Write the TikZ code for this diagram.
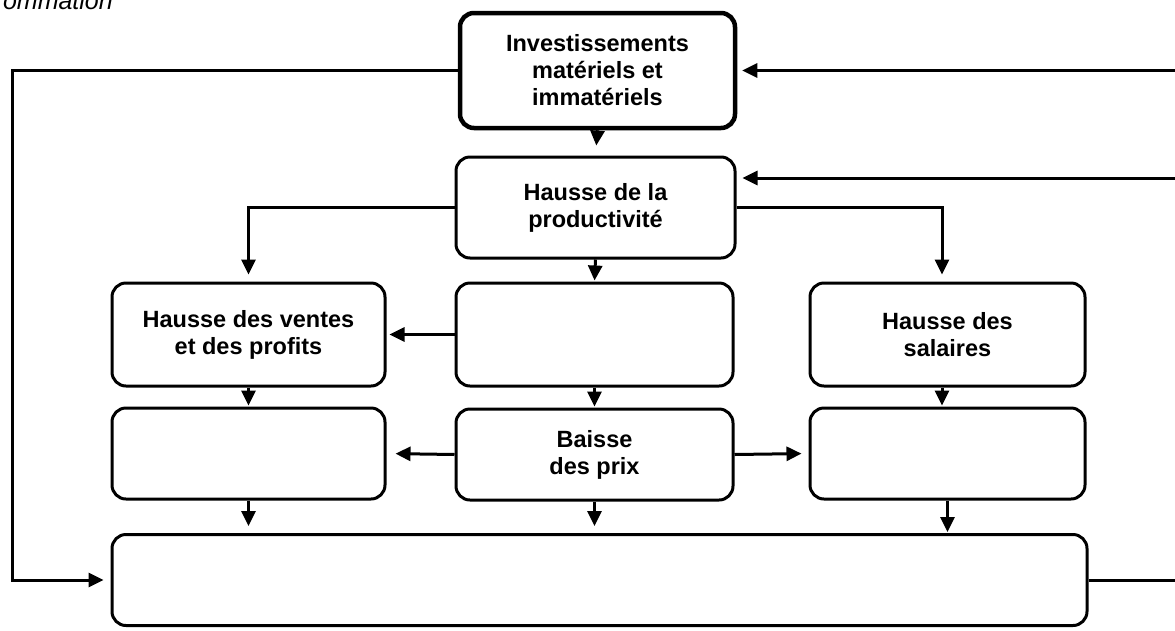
\documentclass[tikz,border=0pt]{standalone}
\usepackage{fontspec}
\setmainfont{Liberation Sans}
\usetikzlibrary{arrows.meta}
\tikzset{
  boite/.style={draw, line width=3pt, rounded corners=14pt, align=center, inner sep=0pt,
    minimum width=275pt, font=\bfseries\fontsize{23.5}{27}\selectfont},
  fleche/.style={line width=3pt, -{Triangle[length=15pt,width=14pt]}},
}
\begin{document}
\begin{tikzpicture}[x=1pt,y=-1pt]
  \useasboundingbox (0,0) rectangle (1175,630);
  \coordinate (gL) at (12,0);
  \coordinate (dR) at (1175,0);

  \node[anchor=base east, inner sep=0pt, font=\itshape\fontsize{25}{30}\selectfont] (titre) at (113,9) {ommation};

  \node[boite, line width=4.5pt, minimum height=115pt] (inv) at (597.5,70.5) {Investissements\\matériels et\\immatériels};
  \node[boite, minimum width=279pt, minimum height=101pt] (prod) at (595.5,207.5) {Hausse de la\\productivité};

  \node[boite, minimum width=273pt, minimum height=103pt] (ventes) at (248.5,334.5) {Hausse des ventes\\et des profits};
  \node[boite, minimum width=277pt, minimum height=103pt] (centre) at (594.5,334.5) {};
  \node[boite, minimum height=103pt] (salaires) at (947.5,334.5) {Hausse des\\salaires};

  \node[boite, minimum width=273pt, minimum height=91pt] (gauche) at (248.5,453.5) {};
  \node[boite, minimum width=277pt, minimum height=91pt] (prix) at (594.5,454.5) {Baisse\\des prix};
  \node[boite, minimum height=91pt] (droite) at (947.5,453.5) {};

  \node[boite, minimum width=975pt, minimum height=91pt] (bas) at (599.5,580) {};

  % boucles exterieures
  \draw[fleche, shorten >=7pt] (inv.west) -- (inv.west -| gL) |- (bas.west);
  \draw[fleche, shorten >=5pt] (inv.east -| dR) -- (inv.east);
  \coordinate (pE) at ([yshift=29.5pt]prod.east);
  \draw[fleche, shorten >=6pt] (pE -| dR) -- (pE);
  \draw[line width=3pt] (bas.east) -- (bas.east -| dR);

  % fleches internes
  \draw[fleche, shorten >=10pt] (inv.south) -- (prod.north);
  \draw[fleche, shorten >=7pt] (prod.west) -| (ventes.north);
  \coordinate (sN) at ([xshift=-5.5pt]salaires.north);
  \draw[fleche, shorten >=7pt] (prod.east) -| (sN);
  \draw[fleche, shorten >=1pt] (prod.south) -- (centre.north);
  \draw[fleche, shorten >=3pt] (centre.west) -- (ventes.east);
  \draw[fleche, shorten >=1pt] (centre.south) -- (prix.north);
  \draw[fleche, shorten >=1pt] (ventes.south) -- (gauche.north);
  \coordinate (sS) at ([xshift=-5.5pt]salaires.south);
  \draw[fleche, shorten >=1pt] (sS) -- (sS |- droite.north);
  \draw[fleche, shorten >=9pt] (prix.west) -- (gauche.east);
  \draw[fleche, shorten >=7pt] (prix.east) -- (droite.west);
  \draw[fleche, shorten >=7pt] (gauche.south) -- (gauche.south |- bas.north);
  \draw[fleche, shorten >=7pt] (prix.south) -- (prix.south |- bas.north);
  \draw[fleche, shorten >=1pt] (droite.south) -- (droite.south |- bas.north);
\end{tikzpicture}
\end{document}
